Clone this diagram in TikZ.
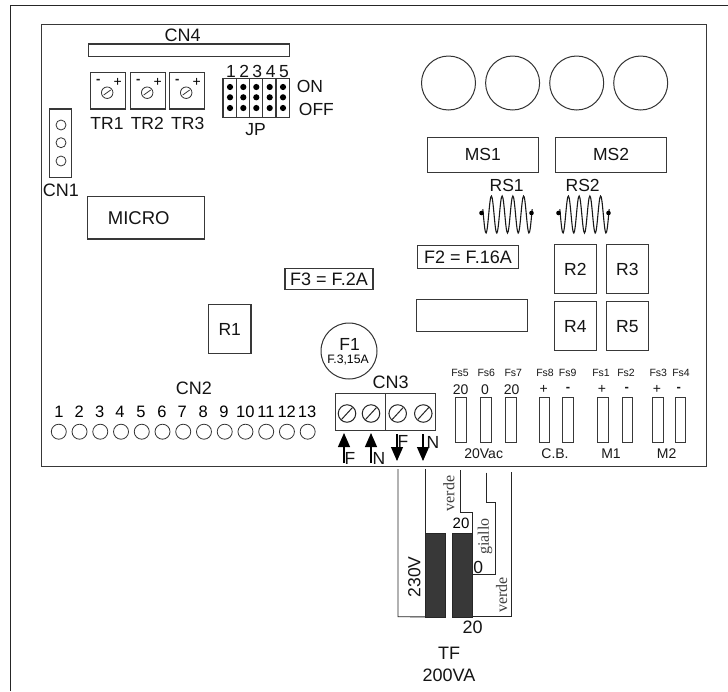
\documentclass[tikz,border=0pt]{standalone}
\usepackage{fontspec}
\setmainfont{Liberation Sans}
\newfontfamily\serifone{Liberation Serif}
\usetikzlibrary{arrows.meta}
\tikzset{
 line/.style={draw=black!78,line width=1.1pt},
 lab/.style={inner sep=0pt,font=\fontsize{17.5}{18}\selectfont,text=black!92},
 big/.style={inner sep=0pt,font=\fontsize{18}{18}\selectfont,text=black!92},
 tiny/.style={inner sep=0pt,font=\fontsize{10.5}{12}\selectfont,text=black!90},
 mid/.style={inner sep=0pt,font=\fontsize{14}{16}\selectfont,text=black!90},
 minuslab/.style={inner sep=0pt,font=\bfseries\fontsize{13}{14}\selectfont,text=black!90},
 screw/.style={circle,draw=black!85,line width=1pt,minimum size=17.5pt,inner sep=0pt},
 pad/.style={circle,draw=black!80,line width=.8pt,minimum size=15pt,inner sep=0pt},
 hole/.style={circle,draw=black!80,line width=.8pt,minimum size=10pt,inner sep=0pt},
 pin/.style={circle,fill=black,minimum size=6.2pt,inner sep=0pt},
 relay/.style={line,minimum width=42.5pt,minimum height=49pt,inner sep=0pt,lab},
 arr/.style={draw=black,line width=1.1pt,-{Triangle[length=14pt,width=12pt]}},
 wire/.style={draw=black!85,line width=.9pt},
 coretf/.style={fill=black!78,minimum width=20.5pt,minimum height=84pt,inner sep=0pt,draw=black!85},
 vlab/.style={inner sep=0pt,rotate=90,font=\serifone\fontsize{16}{16}\selectfont,text=black!75}
}
\begin{document}
\begin{tikzpicture}[x=1pt,y=-1pt]
\useasboundingbox (0,0) rectangle (728,691);
\fill[white] (0,0) rectangle (728,691);
% outer frame
\draw[black!85,line width=1.2pt] (10.5,691) -- (10.5,5.7) -- (728,5.7);
% board
\node[line,minimum width=665.5pt,minimum height=442.5pt,inner sep=0pt,anchor=north west] (board) at (40.5,23.5) {};
% CN4
\draw[line] (88.3,44) rectangle (289.7,56.5);
\node[big] (cn4) at (182.7,35.7) {CN4};
% Trimmers
\foreach \x/\n in {90.7/1,130.7/2,169.7/3}{
 \draw[line] (\x,72.7) rectangle (\x+35,109);
 \node[circle,draw=black!80,line width=.8pt,minimum size=11.5pt,inner sep=0pt] (t\n) at (\x+16.5,92.7) {};
 \draw[black!80,line width=.8pt] (\x+13,95) -- (\x+20,90);
 \node[minuslab] at (\x+7.5,81.5) {-};
 \node[inner sep=0pt,font=\fontsize{14}{14}\selectfont] at (\x+27,82) {+};
}
\node[lab] (tr1) at (107,123) {TR1};
\node[lab] (tr2) at (147.3,123) {TR2};
\node[lab] (tr3) at (187.7,123) {TR3};
% JP
\foreach \x/\n in {223/1,236.3/2,249.3/3,262.7/4,276/5}{
 \draw[line] (\x,78.7) rectangle (\x+13.3,117.3);
 \node[pin] at (\x+7,87) {};
 \node[pin] at (\x+7,97.3) {};
 \node[pin] at (\x+7,108) {};
 \node[lab] at (\x+8,71.7) {\n};
}
\node[lab] (on) at (310,86.7) {ON};
\node[lab,anchor=west] (off) at (298.7,109) {OFF};
\node[lab] (jp) at (255.7,130) {JP};
% CN1
\draw[line] (49.3,109) rectangle (71.7,177.3);
\node[hole] at (61,125) {};
\node[hole] at (61,142.7) {};
\node[hole] at (61,161) {};
\node[big] (cn1) at (61,190.7) {CN1};
% MICRO
\draw[line] (87.5,196.5) rectangle (204.7,239);
\node[inner sep=0pt,font=\fontsize{18.5}{19}\selectfont,text=black!92] (micro) at (138.7,218.3) {MICRO};
% R1
\node[relay] (r1) at (229.7,329) {R1};
% F3
\node[line,minimum width=88pt,minimum height=21pt,inner sep=0pt,big] (f3) at (329,279) {F3 = F.2A};
% F2
\node[line,minimum width=101.4pt,minimum height=23pt,inner sep=0pt,big] (f2) at (468,256.8) {F2 = F.16A};
% blank
\draw[line] (416.7,299.7) rectangle (527.7,331.3);
% circles
\foreach \x/\n in {448.5/1,512.6/2,576.7/3,640.7/4}{
 \node[circle,draw=black!80,line width=1pt,minimum size=54pt,inner sep=0pt] (c\n) at (\x,83) {};
}
% MS
\node[line,minimum width=111pt,minimum height=35pt,inner sep=0pt,lab] (ms1) at (482.8,154.8) {MS1};
\node[line,minimum width=111pt,minimum height=35pt,inner sep=0pt,lab] (ms2) at (611,154.8) {MS2};
\node[lab] (rs1) at (506.7,185) {RS1};
\node[lab] (rs2) at (582.7,185) {RS2};
% Coils
\foreach \cx/\n in {486/1,563/2}{
 \draw[black!90,line width=1.1pt] plot[smooth,domain=-3.2:46.2,samples=75] ({\cx+\x},{214.5+18.5*cos(33.488*\x)});
 \fill[black] (\cx-4.5,213) circle (2.3pt);
 \fill[black] (\cx+45.5,213) circle (2.3pt);
}
% Relays
\node[relay] (r2) at (575.3,269.3) {R2};
\node[relay] (r3) at (627.3,269.3) {R3};
\node[relay] (r4) at (575.3,326.2) {R4};
\node[relay] (r5) at (627.3,326.2) {R5};
% F1
\node[circle,draw=black!80,line width=1pt,minimum size=56pt,inner sep=0pt] (f1) at (349,351) {};
\node[lab] (f1a) at (349.7,344.3) {F1};
\node[inner sep=0pt,font=\fontsize{12.2}{13}\selectfont] (f1b) at (348,360) {F.3,15A};
% CN3
\draw[line] (335.7,393.3) rectangle (435.3,430.7);
\draw[line] (385.7,393.3) -- (385.7,430.7);
\node[big] (cn3) at (390.7,382.7) {CN3};
\foreach \x in {347,371,397.7,423.3}{
 \node[screw] at (\x,413.5) {};
 \draw[black!85,line width=1pt] (\x-5.5,419.5) -- (\x+5.5,407.5);
}
% arrows
\coordinate (a1) at (344,463); \coordinate (a1t) at (344,433);
\coordinate (a2) at (371,463); \coordinate (a2t) at (371,433);
\draw[arr] (a1) -- (a1t);
\draw[arr] (a2) -- (a2t);
\coordinate (a3) at (397,434); \coordinate (a3b) at (397,461);
\coordinate (a4) at (423,434); \coordinate (a4b) at (423,461);
\draw[arr] (a3) -- (a3b);
\draw[arr] (a4) -- (a4b);
\node[lab] at (350,458) {F};
\node[lab] at (379,458) {N};
\node[lab] at (403,441) {F};
\node[lab] at (433,442) {N};
% CN2
\node[big] (cn2) at (194,388) {CN2};
\foreach \i [evaluate=\i as \xx using 58.8+(\i-1)*20.74] in {1,...,13}{
 \node[pad] (p\i) at (\xx,431.7) {};
}
\foreach \i/\x in {1/59,2/79.3,3/99.7,4/120,5/141,6/162,7/182.3,8/203.3,9/224,10/245.3,11/266,12/286.7,13/307}{
 \node[inner sep=0pt,font=\fontsize{16.5}{18}\selectfont] (n\i) at (\x,411.7) {\i};
}
% Fast-on
\foreach \x/\lx/\t in {461/460/Fs5,486/486.3/Fs6,511/513.3/Fs7,544.3/545/Fs8,568/567.7/Fs9,602.7/601/Fs1,627.3/626/Fs2,658/658.3/Fs3,680.3/681/Fs4}{
 \draw[line,line width=.95pt] (\x-5.3,397.3) rectangle (\x+5.3,442.3);
 \node[tiny] at (\lx,373.3) {\t};
}
\node[mid] at (460.7,389.3) {20};
\node[mid] at (485,389.3) {0};
\node[mid] at (511.7,389.3) {20};
\node[mid] at (543.7,389.3) {+};
\node[minuslab] at (568,389.5) {-};
\node[mid] at (602,389.3) {+};
\node[minuslab] at (626.7,389.5) {-};
\node[mid] at (657,389.3) {+};
\node[minuslab] at (678.7,389.5) {-};
\node[mid] (vac) at (483.7,453.3) {20Vac};
\node[mid] (cb) at (555,453.3) {C.B.};
\node[mid] (m1) at (611,453.3) {M1};
\node[mid] (m2) at (666.7,453.3) {M2};
% Transformer
\node[coretf] (core1) at (435.3,574.7) {};
\node[coretf] (core2) at (462.3,574.7) {};
\draw[wire] (398,469) -- (398,616.7) -- (core1.south west);
\draw[wire] (425.7,469) -- (425.7,532.7);
\draw[wire] (460.3,470) -- (460.3,512.7) -- (472.7,512.7) -- (472.7,532.7);
\draw[wire] (486.3,472.7) -- (486.3,502.3) -- (495.7,502.3) -- (495.7,574) -- (472.7,574);
\draw[wire] (511,472) -- (511,616.7) -- (472.7,616.7);
\node[vlab] at (449,493.5) {verde};
\node[vlab] at (485,536.7) {giallo};
\node[vlab] at (501.7,595) {verde};
\node[inner sep=0pt,font=\fontsize{15}{16}\selectfont] at (461,523.3) {20};
\node[lab] at (478.3,567.3) {0};
\node[lab,rotate=90] at (414.3,577) {230V};
\node[big] at (472.7,627) {20};
\node[big] (tf) at (449,653) {TF};
\node[big] (va) at (449,675) {200VA};
\end{tikzpicture}
\end{document}
